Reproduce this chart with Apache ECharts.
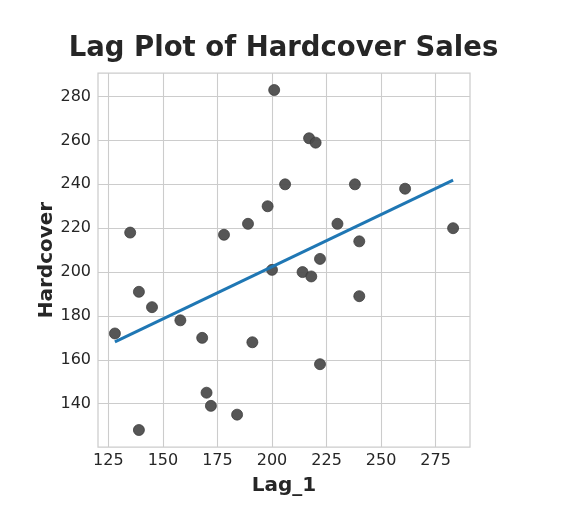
<!DOCTYPE html>
<html>
<head>
<meta charset="utf-8">
<script src="https://cdn.jsdelivr.net/npm/echarts@6/dist/echarts.min.js"></script>
<style>
html,body{margin:0;padding:0;background:#fff;}
#chart{width:567px;height:529px;}
</style>
</head>
<body>
<div id="chart"></div>
<script>
// Lag_1 (x) and Hardcover (y) values
const lag1 = [201, 206, 198, 189, 178, 135, 217, 220, 238, 261, 230, 240, 283, 222, 200,
              139, 145, 158, 128, 168, 191, 170, 172, 184, 139, 214, 218, 240, 222];
const hardcover = [283, 240, 230, 222, 217, 218, 261, 259, 240, 238, 222, 214, 220, 206, 201,
                   191, 184, 178, 172, 170, 168, 145, 139, 135, 128, 200, 198, 189, 158];
const xTicks = [125, 150, 175, 200, 225, 250, 275];
const yTicks = [140, 160, 180, 200, 220, 240, 260, 280];

const points = lag1.map((x, i) => [x, hardcover[i]]);

// OLS regression fit over the data range
const n = lag1.length;
const mx = lag1.reduce((a, b) => a + b, 0) / n;
const my = hardcover.reduce((a, b) => a + b, 0) / n;
let sxy = 0, sxx = 0;
for (let i = 0; i < n; i++) { sxy += (lag1[i] - mx) * (hardcover[i] - my); sxx += (lag1[i] - mx) ** 2; }
const slope = sxy / sxx, icpt = my - slope * mx;
const xmin = Math.min(...lag1), xmax = Math.max(...lag1);
const fit = [[xmin, icpt + slope * xmin], [xmax, icpt + slope * xmax]];

const ymin = Math.min(...hardcover), ymax = Math.max(...hardcover);
const xpad = (xmax - xmin) * 0.05, ypad = (ymax - ymin) * 0.05;

const font = 'DejaVu Sans';
const chart = echarts.init(document.getElementById('chart'), null, {renderer: 'canvas'});
chart.setOption({
  backgroundColor: '#ffffff',
  animation: false,
  title: {
    text: 'Lag Plot of Hardcover Sales',
    left: 'center', top: 30,
    textStyle: {fontFamily: font, fontSize: 27.5, fontWeight: 'bold', color: '#262626'}
  },
  grid: {
    left: 98, right: 97, top: 73, bottom: 82,
    show: true, borderColor: '#cccccc', borderWidth: 1.25, backgroundColor: '#ffffff'
  },
  xAxis: {
    type: 'value',
    min: xmin - xpad, max: xmax + xpad,
    name: 'Lag_1', nameLocation: 'middle', nameGap: 29, nameMoveOverlap: false,
    nameTextStyle: {fontFamily: font, fontSize: 20, fontWeight: 'bold', color: '#262626'},
    axisLine: {show: false},
    axisTick: {show: false, customValues: xTicks},
    axisLabel: {customValues: xTicks, margin: 6, fontFamily: font, fontSize: 16, color: '#262626'},
    splitLine: {show: true, lineStyle: {color: '#cccccc', width: 1.1}}
  },
  yAxis: {
    type: 'value',
    min: ymin - ypad, max: ymax + ypad,
    name: 'Hardcover', nameLocation: 'middle', nameGap: 41, nameMoveOverlap: false,
    nameTextStyle: {fontFamily: font, fontSize: 20, fontWeight: 'bold', color: '#262626'},
    axisLine: {show: false},
    axisTick: {show: false, customValues: yTicks},
    axisLabel: {customValues: yTicks, margin: 7, fontFamily: font, fontSize: 16, color: '#262626'},
    splitLine: {show: true, lineStyle: {color: '#cccccc', width: 1.1}}
  },
  series: [
    {
      type: 'scatter',
      data: points,
      symbolSize: 11,
      itemStyle: {color: '#4d4d4d', borderColor: '#3a3a3a', borderWidth: 0.8, opacity: 0.95},
      z: 2
    },
    {
      type: 'line',
      data: fit,
      showSymbol: false,
      lineStyle: {color: '#1f77b4', width: 3},
      z: 3
    }
  ]
});
</script>
</body>
</html>
